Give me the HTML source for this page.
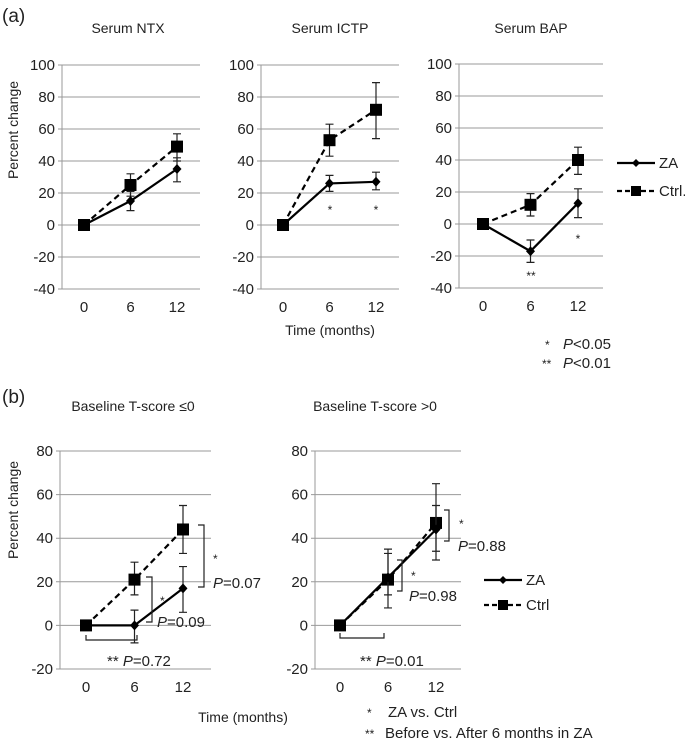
<!DOCTYPE html>
<html><head><meta charset="utf-8"><style>
body{margin:0;background:#fff;}
svg{display:block;font-family:"Liberation Sans",sans-serif;}
</style></head><body>
<svg id="fig" width="685" height="740" viewBox="0 0 685 740"></svg>
<script>
const monthsCats = [0, 6, 12];
const ntxZA = [0, 15, 35], ntxZAlo = [0, 9, 27], ntxZAhi = [0, 21, 42];
const ntxCt = [0, 25, 49], ntxCtlo = [0, 18, 40], ntxCthi = [0, 32, 57];
const ictpZA = [0, 26, 27], ictpZAlo = [0, 21, 22], ictpZAhi = [0, 31, 33];
const ictpCt = [0, 53, 72], ictpCtlo = [0, 43, 54], ictpCthi = [0, 63, 89];
const bapZA = [0, -17, 13], bapZAlo = [0, -24, 4], bapZAhi = [0, -10, 22];
const bapCt = [0, 12, 40], bapCtlo = [0, 5, 31], bapCthi = [0, 19, 48];
const b1ZA = [0, 0, 17], b1ZAlo = [0, -8, 6], b1ZAhi = [0, 7, 27];
const b1Ct = [0, 21, 44], b1Ctlo = [0, 14, 33], b1Cthi = [0, 29, 55];
const b2ZA = [0, 22, 44], b2ZAlo = [0, 8, 30], b2ZAhi = [0, 35, 55];
const b2Ct = [0, 21, 47], b2Ctlo = [0, 14, 34], b2Cthi = [0, 33, 65];
const aTicks = [100, 80, 60, 40, 20, 0, -20, -40];
const bTicks = [80, 60, 40, 20, 0, -20];

const NS = "http://www.w3.org/2000/svg";
const svg = document.getElementById('fig');
function mk(tag, attrs, parent) {
  const e = document.createElementNS(NS, tag);
  for (const k in attrs) e.setAttribute(k, attrs[k]);
  (parent || svg).appendChild(e);
  return e;
}
function txt(x, y, s, size, anchor, parent) {
  const t = mk('text', {x: x, y: y, 'font-size': size, 'text-anchor': anchor || 'middle', fill: '#222'}, parent);
  t.textContent = s;
  return t;
}
function chart(cfg) {
  const g = mk('g', {});
  
  
  const ymax = cfg.ticks[0], ymin = cfg.ticks[cfg.ticks.length - 1];
  const Y = v => cfg.yTop + (ymax - v) / (ymax - ymin) * (cfg.yBot - cfg.yTop);
  const X = i => cfg.x0 + i * cfg.dx;
  cfg.ticks.forEach(t => {
    const l = mk('line', {x1: cfg.axX - 4, x2: cfg.gridEnd, y1: Y(t), y2: Y(t), stroke: '#999', 'stroke-width': 1}, g);
    
    
    const tl = txt(cfg.axX - 7, Y(t) + 5, String(t), 15, 'end', g);
    
    
  });
  const ax = mk('line', {x1: cfg.axX, x2: cfg.axX, y1: cfg.yTop, y2: cfg.yBot, stroke: '#999'}, g);
  
  
  monthsCats.forEach((c, i) => {
    const tl = txt(X(i), cfg.yBot + 23, String(c), 15, 'middle', g);
    
    
  });
  const title = txt(cfg.titleX, cfg.titleY, cfg.title, 14, 'middle', g);
  
  
  [[cfg.ct, cfg.ctlo, cfg.cthi, true], [cfg.za, cfg.zalo, cfg.zahi, false]].forEach(([v, lo, hi, dash]) => {
    v.forEach((_, i) => {
      if (i === 0) return;
      const e = mk('path', {d: `M${X(i)},${Y(lo[i])}V${Y(hi[i])}M${X(i)-4},${Y(lo[i])}h8M${X(i)-4},${Y(hi[i])}h8`, stroke: '#222', 'stroke-width': 1.2, fill: 'none'}, g);
      
      
    });
    const pts = v.map((d, i) => X(i) + ',' + Y(d)).join(' ');
    const pl = mk('polyline', {points: pts, fill: 'none', stroke: '#000', 'stroke-width': 2.2, 'stroke-dasharray': dash ? '6,4' : 'none'}, g);
    
    
    v.forEach((d, i) => {
      let m;
      if (dash) m = mk('rect', {x: X(i) - 6, y: Y(d) - 6, width: 12, height: 12, fill: '#000'}, g);
      else m = mk('path', {d: `M${X(i)},${Y(d)-5}l4.5,5l-4.5,5l-4.5,-5z`, fill: '#000'}, g);
      
      
    });
  });
  return {X, Y, g};
}
const A = {ticks: aTicks, yTop: 65, yBot: 289, dx: 46.5, titleY: 33};
chart(Object.assign({}, A, {name: 'chart-ntx', title: 'Serum NTX', titleX: 128, axX: 62, x0: 84, gridEnd: 200, za: ntxZA, zalo: ntxZAlo, zahi: ntxZAhi, ct: ntxCt, ctlo: ntxCtlo, cthi: ntxCthi}));
chart(Object.assign({}, A, {name: 'chart-ictp', title: 'Serum ICTP', titleX: 330, axX: 261, x0: 283, gridEnd: 399, za: ictpZA, zalo: ictpZAlo, zahi: ictpZAhi, ct: ictpCt, ctlo: ictpCtlo, cthi: ictpCthi}));
chart(Object.assign({}, A, {name: 'chart-bap', title: 'Serum BAP', titleX: 531, axX: 459, x0: 483, dx: 47.5, yTop: 64, yBot: 288, gridEnd: 603, za: bapZA, zalo: bapZAlo, zahi: bapZAhi, ct: bapCt, ctlo: bapCtlo, cthi: bapCthi}));
const B = {ticks: bTicks, yTop: 451, yBot: 669, titleY: 411};
chart(Object.assign({}, B, {name: 'chart-tscore-le0', title: 'Baseline T-score ≤0', titleX: 133, axX: 60, x0: 86, dx: 48.5, gridEnd: 211, za: b1ZA, zalo: b1ZAlo, zahi: b1ZAhi, ct: b1Ct, ctlo: b1Ctlo, cthi: b1Cthi}));
chart(Object.assign({}, B, {name: 'chart-tscore-gt0', title: 'Baseline T-score >0', titleX: 375, axX: 315, x0: 340, dx: 48, gridEnd: 461, za: b2ZA, zalo: b2ZAlo, zahi: b2ZAhi, ct: b2Ct, ctlo: b2Ctlo, cthi: b2Cthi}));

function label(x, y, s, size, name, anchor, extra) {
  const t = txt(x, y, s, size, anchor || 'start');
  
  
  if (extra) t.setAttribute('transform', extra);
  return t;
}
function rich(x, y, pre, val, name, size) {
  const t = mk('text', {x: x, y: y, 'font-size': size || 15, fill: '#222'});
  
  
  t.innerHTML = (pre ? pre : '') + '<tspan font-style="italic">P</tspan>' + val;
  return t;
}
label(2, 22, '(a)', 19, 'panel-a-label');
label(2, 403, '(b)', 19, 'panel-b-label');
label(18, 130, 'Percent change', 14, 'y-axis-title-a', 'middle', 'rotate(-90 18 130)');
label(18, 510, 'Percent change', 14, 'y-axis-title-b', 'middle', 'rotate(-90 18 510)');
label(330, 335, 'Time (months)', 14, 'x-axis-title-a', 'middle');
label(243, 722, 'Time (months)', 14, 'x-axis-title-b', 'middle');
label(330, 214, '*', 12, 'sig-ictp-6', 'middle');
label(376, 214, '*', 12, 'sig-ictp-12', 'middle');
label(578, 243, '*', 12, 'sig-bap-12', 'middle');
label(531, 280, '**', 12, 'sig-bap-6', 'middle');
function legend(x, y1, y2, ctrlText, name) {
  const g = mk('g', {});
  
  
  mk('line', {x1: x, x2: x + 38, y1: y1, y2: y1, stroke: '#000', 'stroke-width': 2.2}, g);
  mk('path', {d: `M${x+19},${y1-4}l4,4l-4,4l-4,-4z`, fill: '#000'}, g);
  txt(x + 42, y1 + 5, 'ZA', 15, 'start', g);
  mk('line', {x1: x, x2: x + 38, y1: y2, y2: y2, stroke: '#000', 'stroke-width': 2.2, 'stroke-dasharray': '5,3'}, g);
  mk('rect', {x: x + 14, y: y2 - 5, width: 10, height: 10, fill: '#000'}, g);
  txt(x + 42, y2 + 5, ctrlText, 15, 'start', g);
}
legend(617, 163, 191, 'Ctrl.', 'legend-a');
legend(484, 580, 605, 'Ctrl', 'legend-b');
label(545, 349, '*', 12, 'note-star');
rich(563, 349, '', '<0.05', 'note-p005');
label(542, 368, '**', 12, 'note-dstar');
rich(563, 368, '', '<0.01', 'note-p001');
function bracket(d, name) {
  const p = mk('path', {d: d, stroke: '#222', 'stroke-width': 1.2, fill: 'none'});
  
  
}
bracket('M86,635V640H137V635', 'bracket-b1-0-6');
bracket('M146,577H152V622H146', 'bracket-b1-6');
bracket('M198,525H204V587H198', 'bracket-b1-12');
bracket('M340,633V638H384V633', 'bracket-b2-0-6');
bracket('M397,560H402V591H397', 'bracket-b2-6');
bracket('M444,510H449V541H444', 'bracket-b2-12');
label(160, 605, '*', 12, 'sig-b1-6');
rich(157, 627, '', '=0.09', 'p-b1-6');
label(213, 563, '*', 12, 'sig-b1-12');
rich(213, 588, '', '=0.07', 'p-b1-12');
rich(107, 666, '** ', '=0.72', 'p-b1-0-6');
label(411, 580, '*', 12, 'sig-b2-6');
rich(409, 601, '', '=0.98', 'p-b2-6');
label(459, 528, '*', 12, 'sig-b2-12');
rich(458, 551, '', '=0.88', 'p-b2-12');
rich(360, 666, '** ', '=0.01', 'p-b2-0-6');
label(367, 717, '*', 12, 'note-b-star');
label(388, 717, 'ZA vs. Ctrl', 15, 'note-b-star-text');
label(365, 738, '**', 12, 'note-b-dstar');
label(385, 738, 'Before vs. After 6 months in ZA', 15, 'note-b-dstar-text');
</script>
</body></html>
